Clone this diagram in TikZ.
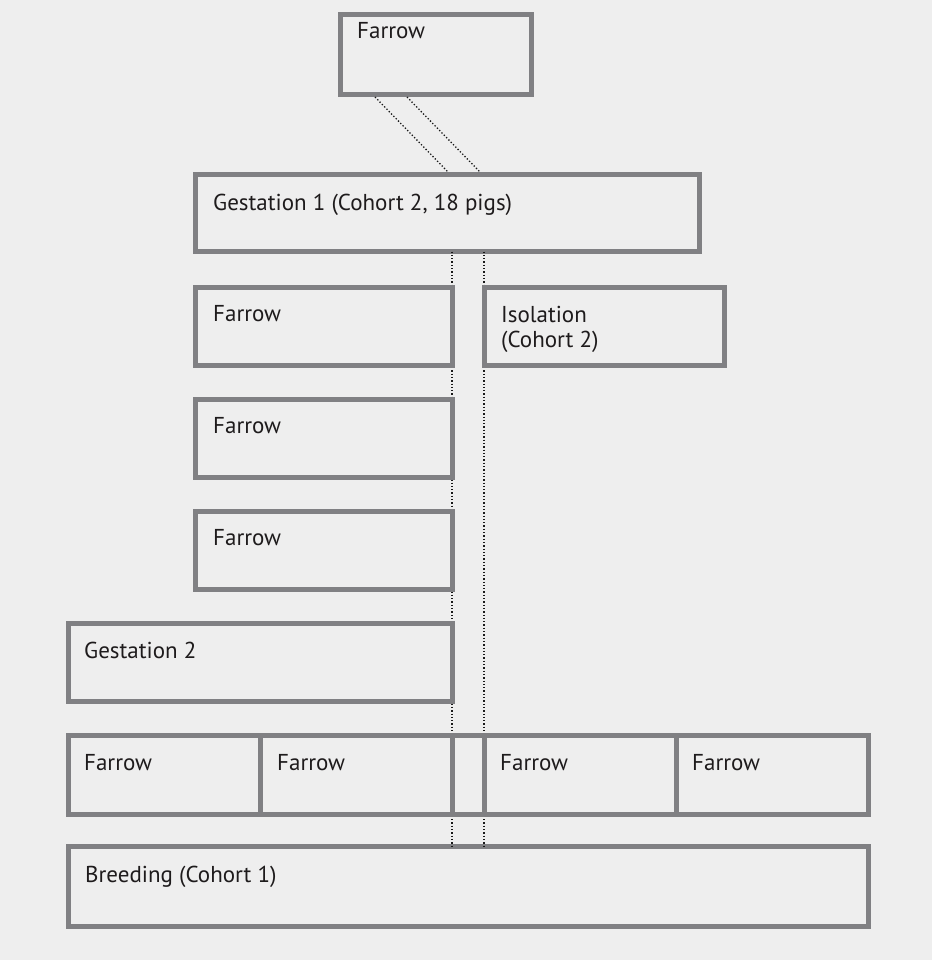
\documentclass[tikz,border=0pt]{standalone}
\usepackage{fontspec}
\setmainfont{PT Sans}
\definecolor{bgc}{RGB}{238,238,238}
\definecolor{boxgray}{RGB}{128,128,131}
\definecolor{txt}{RGB}{30,27,28}
\tikzset{
  box/.style={draw=boxgray, line width=5pt, fill=bgc, inner sep=0pt, outer sep=0pt, rectangle},
  lbl/.style={anchor=base west, text=txt, font=\fontsize{23}{26}\selectfont, inner sep=0pt},
  dotl/.style={line width=1.3pt, dash pattern=on 1.3pt off 2pt, draw=black!90}
}
\begin{document}
\begin{tikzpicture}[x=1pt,y=-1pt]
\fill[bgc] (0,0) rectangle (932,960);
\useasboundingbox (0,0) rectangle (932,960);
% coordinates for connector ends
\coordinate (dA) at (452,0);
\coordinate (dB) at (484,0);
% boxes
\node[box, minimum width=191, minimum height=80] (tf) at (436,54.5) {};
\node[box, minimum width=504, minimum height=77] (g1) at (447.5,213) {};
% dotted connectors (drawn under lower boxes)
\coordinate (tA) at (375,97);
\coordinate (tB) at (407,97);
\coordinate (gA) at (448,172);
\coordinate (gB) at (480,172);
\node[box, minimum width=800, minimum height=80] (br) at (468.5,886.5) {};
\draw[dotl] (tA) -- (gA);
\draw[dotl] (tB) -- (gB);
\draw[dotl] (g1.south -| dA) -- (br.north -| dA);
\draw[dotl] (g1.south -| dB) -- (br.north -| dB);
\node[box, minimum width=257, minimum height=78] (f1) at (324,326.5) {};
\node[box, minimum width=240, minimum height=78] (iso) at (604.5,326.5) {};
\node[box, minimum width=257, minimum height=78] (f2) at (324,438.5) {};
\node[box, minimum width=257, minimum height=78] (f3) at (324,550.5) {};
\node[box, minimum width=384, minimum height=78] (g2) at (260.5,662.5) {};
\node[box, minimum width=192, minimum height=79] (b1) at (164.5,775) {};
\node[box, minimum width=192, minimum height=79] (b2) at (356.5,775) {};
\node[box, minimum width=31.5, minimum height=79] (gap) at (468.25,775) {};
\node[box, minimum width=192, minimum height=79] (b3) at (580,775) {};
\node[box, minimum width=192.5, minimum height=79] (b4) at (772.25,775) {};
% labels
\node[lbl] (ltf) at (357,39) {Farrow};
\node[lbl] (lg1) at (213,210) {Gestation 1 (Cohort 2, 18 pigs)};
\node[lbl] (lf1) at (213,321) {Farrow};
\node[lbl] (liso1) at (501,322) {Isolation};
\node[lbl] (liso2) at (501,347) {(Cohort 2)};
\node[lbl] (lf2) at (213,433) {Farrow};
\node[lbl] (lf3) at (213,545) {Farrow};
\node[lbl] (lg2) at (84,658) {Gestation 2};
\node[lbl] (lb1) at (84,770) {Farrow};
\node[lbl] (lb2) at (277,770) {Farrow};
\node[lbl] (lb3) at (500,770) {Farrow};
\node[lbl] (lb4) at (692,770) {Farrow};
\node[lbl] (lbr) at (85,882) {Breeding (Cohort 1)};
\end{tikzpicture}
\end{document}
